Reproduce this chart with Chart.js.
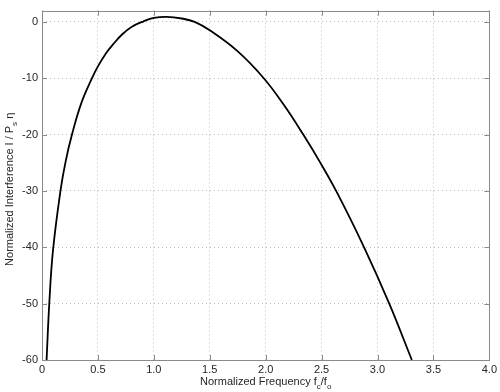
<!DOCTYPE html>
<html>
<head>
<meta charset="utf-8">
<script src="https://cdn.jsdelivr.net/npm/chart.js@4"></script>
<style>
  html, body { margin: 0; padding: 0; background: #fff; }
  #wrap { width: 500px; height: 392px; }
</style>
</head>
<body>
<div id="wrap"><canvas id="lineChart"></canvas></div>
<script>
// values
const freq = [0.041, 0.065, 0.098, 0.165, 0.212, 0.268, 0.35, 0.447, 0.5, 0.571, 0.635, 0.718, 0.8, 0.909, 1.0, 1.115, 1.25, 1.365, 1.5, 1.748, 1.983, 2.165, 2.336, 2.483, 2.63, 2.88, 3.105, 3.307];
const interference = [-60, -50, -40.6, -30, -24.7, -20, -14.5, -10, -7.9, -5.6, -4.0, -2.2, -0.9, 0.1, 0.7, 0.9, 0.6, 0, -1.5, -5.2, -10, -14.8, -20, -24.8, -30, -40, -50, -60];
const xTicks = [0, 0.5, 1, 1.5, 2, 2.5, 3, 3.5, 4];
const yTicks = [-60, -50, -40, -30, -20, -10, 0];

const FONT = "'Liberation Sans', Arial, sans-serif";
const TXT = '#262626';

// box, inward tick marks and axis titles (with subscripts)
const matlabBox = {
  id: 'matlabBox',
  afterDraw(chart) {
    const { ctx, chartArea: a, scales } = chart;
    ctx.save();
    ctx.strokeStyle = '#8a8a8a';
    ctx.lineWidth = 1;
    ctx.strokeRect(Math.round(a.left) + 0.5, Math.round(a.top) + 0.5,
      Math.round(a.right - a.left), Math.round(a.bottom - a.top));
    ctx.beginPath();
    xTicks.forEach(v => {
      const px = Math.round(scales.x.getPixelForValue(v)) + 0.5;
      ctx.moveTo(px, a.bottom); ctx.lineTo(px, a.bottom - 5);
      ctx.moveTo(px, a.top); ctx.lineTo(px, a.top + 5);
    });
    yTicks.forEach(v => {
      const py = Math.round(scales.y.getPixelForValue(v)) + 0.5;
      ctx.moveTo(a.left, py); ctx.lineTo(a.left + 5, py);
      ctx.moveTo(a.right, py); ctx.lineTo(a.right - 5, py);
    });
    ctx.stroke();

    ctx.fillStyle = TXT;
    ctx.textBaseline = 'alphabetic';
    const big = '11px ' + FONT, small = '8px ' + FONT;

    // x title: Normalized Frequency f_c/f_o
    const xParts = [['Normalized Frequency f', big, 0], ['c', small, 4], ['/f', big, 0], ['o', small, 4]];
    drawParts(ctx, xParts, (a.left + a.right) / 2, 385, 0);

    // y title: Normalized Interference I / P_s η
    const yParts = [['Normalized Interference I / P', big, 0], ['s', small, 4], [' η', big, 0]];
    drawParts(ctx, yParts, 13, (a.top + a.bottom) / 2 + 4, -Math.PI / 2);
    ctx.restore();
  }
};

function drawParts(ctx, parts, cx, cy, rot) {
  let total = 0;
  parts.forEach(p => { ctx.font = p[1]; total += ctx.measureText(p[0]).width; });
  ctx.save();
  ctx.translate(cx, cy);
  ctx.rotate(rot);
  let x = -total / 2;
  parts.forEach(p => {
    ctx.font = p[1];
    ctx.fillText(p[0], x, p[2]);
    x += ctx.measureText(p[0]).width;
  });
  ctx.restore();
}

new Chart(document.getElementById('lineChart'), {
  type: 'line',
  data: {
    datasets: [{
      data: freq.map((f, i) => ({ x: f, y: interference[i] })),
      borderColor: '#000',
      borderWidth: 1.8,
      pointRadius: 0,
      tension: 0.4,
      fill: false
    }]
  },
  options: {
    responsive: true,
    maintainAspectRatio: false,
    animation: false,
    layout: { padding: { top: 3, right: 5, left: 0, bottom: 0 } },
    plugins: { legend: { display: false }, tooltip: { enabled: false } },
    scales: {
      x: {
        type: 'linear',
        min: 0, max: 4,
        afterBuildTicks: s => { s.ticks = xTicks.map(v => ({ value: v })); },
        afterFit: s => { s.height = 32; },
        grid: { color: '#bdbdbd', drawTicks: false },
        border: { display: false, dash: [1, 3] },
        ticks: { padding: 3, color: TXT, font: { family: FONT, size: 11 }, maxRotation: 0 }
      },
      y: {
        min: -60, max: 2,
        afterBuildTicks: s => { s.ticks = yTicks.map(v => ({ value: v })); },
        afterFit: s => { s.width = 42; },
        grid: { color: '#bdbdbd', drawTicks: false },
        border: { display: false, dash: [1, 3] },
        ticks: { padding: 4, color: TXT, font: { family: FONT, size: 11 } }
      }
    }
  },
  plugins: [matlabBox]
});
</script>
</body>
</html>
